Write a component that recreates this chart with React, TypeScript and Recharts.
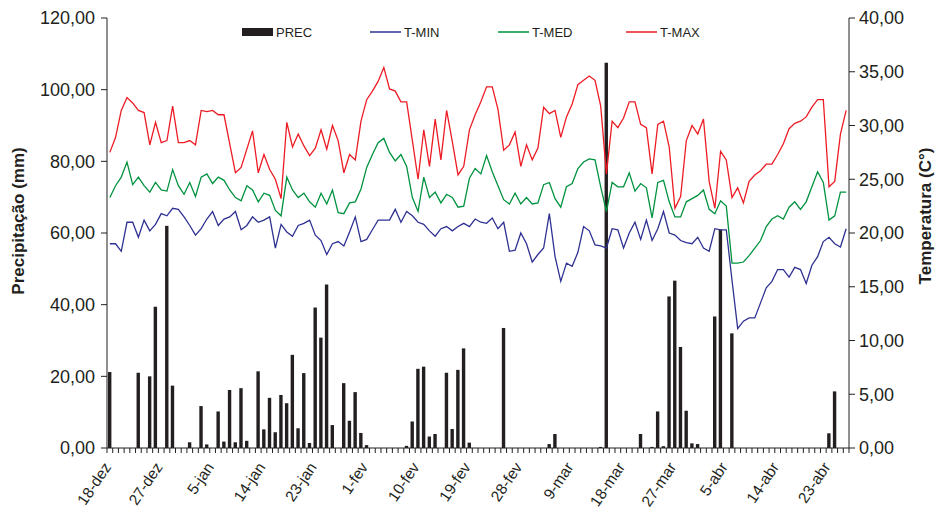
import { ComposedChart, Bar, Line, XAxis, YAxis } from 'recharts';

// daily series from 18-dez to 26-abr
const MONTHS: [string, number, number][] = [
  ['dez', 18, 31],
  ['jan', 1, 31],
  ['fev', 1, 28],
  ['mar', 1, 31],
  ['abr', 1, 26],
];
const DAYS: string[] = MONTHS.flatMap(([m, from, to]) =>
  Array.from({ length: to - from + 1 }, (_, i) => `${from + i}-${m}`)
);

// precipitação (mm)
const PREC = [
  21.2, 0, 0, 0, 0, 21.0, 0, 20.0, 39.4, 0,
  62.0, 17.4, 0, 0, 1.6, 0, 11.7, 1.0, 0, 10.2,
  1.8, 16.2, 1.6, 16.7, 2.0, 0, 21.4, 5.2, 14.0, 4.4,
  14.8, 12.5, 26.0, 5.5, 20.9, 1.4, 39.2, 30.8, 45.6, 6.4,
  0, 18.1, 7.6, 15.6, 4.2, 0.8, 0, 0, 0, 0,
  0, 0, 0.6, 7.4, 22.1, 22.7, 3.2, 3.9, 0, 21.0,
  5.3, 21.8, 27.8, 1.5, 0, 0, 0, 0, 0, 33.5,
  0, 0, 0, 0, 0, 0, 0, 1.1, 3.9, 0,
  0, 0, 0, 0, 0, 0, 0.3, 107.5, 0, 0,
  0, 0, 0, 3.9, 0, 0.3, 10.2, 0.5, 42.3, 46.7,
  28.2, 10.4, 1.3, 1.1, 0, 0, 36.7, 61.0, 0, 32.0,
  0, 0, 0, 0, 0, 0, 0, 0, 0, 0,
  0, 0, 0, 0, 0, 0, 4.1, 15.8, 0, 0,
];

// temperaturas (°C)
const TMIN = [
  19.0, 19.0, 18.3, 21.0, 21.0, 19.6, 21.2, 20.2, 20.8, 21.8,
  21.6, 22.3, 22.2, 21.5, 20.7, 19.8, 20.4, 21.3, 22.0, 20.7,
  21.3, 21.5, 22.0, 20.3, 20.7, 21.5, 21.0, 21.2, 21.5, 18.6,
  20.8, 20.1, 19.7, 20.7, 20.9, 21.2, 19.8, 19.3, 18.0, 19.0,
  19.2, 18.8, 20.1, 21.5, 19.2, 19.4, 20.3, 21.2, 21.2, 21.2,
  22.2, 21.0, 22.0, 21.6, 21.0, 20.8, 20.2, 19.7, 20.4, 20.6,
  20.2, 20.6, 20.9, 20.6, 21.3, 21.0, 20.9, 21.4, 20.4, 21.0,
  18.3, 18.4, 20.0, 19.0, 17.3, 18.0, 18.6, 21.8, 17.8, 15.5,
  17.2, 16.9, 18.2, 20.6, 20.2, 18.9, 18.8, 18.6, 20.4, 20.3,
  18.6, 20.0, 21.0, 19.4, 21.2, 19.3, 20.4, 22.0, 20.0, 19.8,
  19.3, 19.1, 19.0, 19.6, 18.6, 18.3, 20.4, 20.3, 20.3, 15.6,
  11.1, 11.8, 12.1, 12.1, 13.5, 14.9, 15.5, 16.6, 16.6, 15.9,
  16.8, 16.6, 15.3, 17.0, 17.8, 19.2, 19.6, 19.0, 18.7, 20.4,
];
const TMED = [
  23.3, 24.4, 25.2, 26.6, 24.5, 25.2, 24.4, 23.8, 24.7, 24.0,
  23.9, 25.9, 24.4, 23.6, 24.7, 23.4, 25.2, 25.5, 24.6, 25.2,
  24.9, 24.0, 23.3, 23.0, 24.4, 24.0, 22.9, 23.7, 23.5, 22.1,
  21.6, 25.2, 24.0, 23.3, 23.7, 22.9, 22.4, 23.7, 22.7, 24.0,
  21.9, 21.8, 22.8, 22.9, 24.1, 26.1, 27.3, 28.4, 28.8, 27.5,
  26.7, 27.3, 26.2, 23.3, 22.0, 25.2, 23.3, 23.8, 22.8, 23.6,
  23.3, 22.4, 22.5, 25.1, 26.0, 25.5, 27.2, 25.7, 24.4, 23.1,
  22.7, 23.7, 22.7, 23.3, 22.7, 22.8, 24.5, 24.7, 23.2, 22.4,
  24.3, 24.6, 26.0, 26.6, 26.9, 26.8, 24.3, 22.0, 24.7, 24.3,
  24.3, 25.6, 23.9, 24.6, 24.2, 21.4, 24.7, 24.9, 22.9, 21.5,
  21.5, 22.9, 23.2, 23.5, 24.0, 22.2, 21.8, 23.0, 22.5, 17.2,
  17.2, 17.3, 17.9, 18.6, 19.3, 20.6, 21.3, 21.6, 21.3, 22.4,
  22.9, 22.2, 22.9, 24.3, 25.7, 24.7, 21.2, 21.6, 23.8, 23.8,
];
const TMAX = [
  27.5, 28.9, 31.4, 32.6, 32.1, 31.4, 31.2, 28.2, 30.3, 28.4,
  28.6, 31.8, 28.4, 28.4, 28.6, 28.2, 31.4, 31.3, 31.4, 31.0,
  31.0, 28.3, 25.6, 26.1, 27.8, 29.5, 25.6, 27.3, 25.9, 25.0,
  23.2, 30.3, 28.0, 29.2, 28.1, 27.2, 27.9, 29.6, 27.8, 30.0,
  28.6, 25.6, 27.3, 26.8, 30.4, 32.4, 33.2, 34.1, 35.4, 33.4,
  33.2, 32.2, 32.2, 28.6, 25.0, 29.6, 26.2, 30.6, 26.8, 31.4,
  28.5, 25.4, 26.2, 29.6, 31.0, 32.2, 33.6, 33.6, 31.5, 27.7,
  28.2, 29.4, 26.2, 28.2, 26.8, 27.9, 31.7, 31.1, 31.4, 28.9,
  30.8, 32.0, 33.8, 34.2, 34.6, 34.2, 31.8, 25.5, 30.4, 29.8,
  30.7, 32.2, 32.2, 30.1, 29.8, 25.5, 30.1, 30.4, 28.0, 22.3,
  23.4, 28.6, 30.0, 29.2, 30.6, 24.8, 22.3, 27.6, 26.8, 23.3,
  24.2, 22.8, 24.8, 25.4, 25.8, 26.4, 26.4, 27.3, 28.3, 29.7,
  30.2, 30.4, 30.8, 31.7, 32.4, 32.4, 24.3, 24.8, 29.2, 31.4,
];

const PREC_TICKS = [0, 20, 40, 60, 80, 100, 120];
const TEMP_TICKS = [0, 5, 10, 15, 20, 25, 30, 35, 40];
const LABEL_EVERY = 9;

const INK = '#231f20';
const C_MIN = '#2e3192';
const C_MED = '#00923f';
const C_MAX = '#ed1c24';
const FONT = '"Liberation Sans", Arial, sans-serif';

const LEGEND = [
  { name: 'PREC', color: INK, box: true },
  { name: 'T-MIN', color: C_MIN, box: false },
  { name: 'T-MED', color: C_MED, box: false },
  { name: 'T-MAX', color: C_MAX, box: false },
];

const data = DAYS.map((day, i) => ({
  day,
  prec: PREC[i],
  tmin: TMIN[i],
  tmed: TMED[i],
  tmax: TMAX[i],
}));

const fmt = (v: number) => v.toFixed(2).replace('.', ',');

function DayTick(props: any) {
  const { x, y, payload, index } = props;
  const half = payload?.offset ?? 2.85;
  const lx = x + 2;
  const ly = y + 19;
  return (
    <g>
      <line x1={x - half} x2={x - half} y1={y} y2={y + 5} stroke={INK} strokeWidth={1} />
      {index === DAYS.length - 1 && (
        <line x1={x + half} x2={x + half} y1={y} y2={y + 5} stroke={INK} strokeWidth={1} />
      )}
      {index % LABEL_EVERY === 0 && (
        <text
          x={lx}
          y={ly}
          textAnchor="end"
          transform={`rotate(-56, ${lx}, ${ly})`}
          fontSize={15.5}
          fontFamily={FONT}
          fill={INK}
        >
          {payload.value}
        </text>
      )}
    </g>
  );
}

function AxisTitle({ viewBox, value, dx, dy }: any) {
  const cx = viewBox.x + dx;
  const cy = viewBox.y + viewBox.height / 2 + dy;
  return (
    <text
      x={cx}
      y={cy}
      textAnchor="middle"
      dominantBaseline="central"
      transform={`rotate(-90, ${cx}, ${cy})`}
      fontSize={17}
      fontWeight="bold"
      fontFamily={FONT}
      fill={INK}
    >
      {value}
    </text>
  );
}

// legend drawn as a small svg strip above the plot
function LegendRow() {
  const step = 128;
  return (
    <svg
      width={520}
      height={20}
      style={{ position: 'absolute', left: 240, top: 23 }}
    >
      {LEGEND.map((it, i) => {
        const x0 = 2 + i * step;
        return (
          <g key={it.name}>
            {it.box ? (
              <rect x={x0} y={5} width={31} height={8} fill={it.color} />
            ) : (
              <line x1={x0} x2={x0 + 31} y1={9} y2={9} stroke={it.color} strokeWidth={1.5} />
            )}
            <text x={x0 + 34} y={14} fontSize={13} fontFamily={FONT} fill={INK}>
              {it.name}
            </text>
          </g>
        );
      })}
    </svg>
  );
}

export default function App() {
  return (
    <div style={{ position: 'absolute', left: 0, top: 0, width: 936, height: 509, background: '#fff' }}>
      <ComposedChart
        width={936}
        height={509}
        data={data}
        margin={{ top: 18, right: 0, bottom: 0, left: 0 }}
      >
        <XAxis
          dataKey="day"
          interval={0}
          height={61}
          tickSize={0}
          tickMargin={0}
          tickLine={false}
          axisLine={{ stroke: INK }}
          tick={<DayTick />}
        />
        <YAxis
          yAxisId="prec"
          orientation="left"
          width={107}
          domain={[0, 120]}
          ticks={PREC_TICKS}
          tickFormatter={fmt}
          tickSize={6}
          tickMargin={6}
          axisLine={{ stroke: INK }}
          tickLine={{ stroke: INK }}
          tick={{ fontSize: 18, fill: INK, fontFamily: FONT }}
          label={<AxisTitle value="Precipitação (mm)" dx={18} dy={-12} />}
        />
        <YAxis
          yAxisId="temp"
          orientation="right"
          width={87}
          domain={[0, 40]}
          ticks={TEMP_TICKS}
          tickFormatter={fmt}
          tickSize={6}
          tickMargin={4}
          axisLine={{ stroke: INK }}
          tickLine={{ stroke: INK }}
          tick={{ fontSize: 18, fill: INK, fontFamily: FONT }}
          label={<AxisTitle value="Temperatura (C°)" dx={76} dy={-17} />}
        />
        <Bar yAxisId="prec" dataKey="prec" fill={INK} barSize={3.4} isAnimationActive={false} />
        <Line yAxisId="temp" type="linear" dataKey="tmin" stroke={C_MIN} strokeWidth={1.3} dot={false} isAnimationActive={false} />
        <Line yAxisId="temp" type="linear" dataKey="tmed" stroke={C_MED} strokeWidth={1.3} dot={false} isAnimationActive={false} />
        <Line yAxisId="temp" type="linear" dataKey="tmax" stroke={C_MAX} strokeWidth={1.3} dot={false} isAnimationActive={false} />
      </ComposedChart>
      <LegendRow />
    </div>
  );
}
